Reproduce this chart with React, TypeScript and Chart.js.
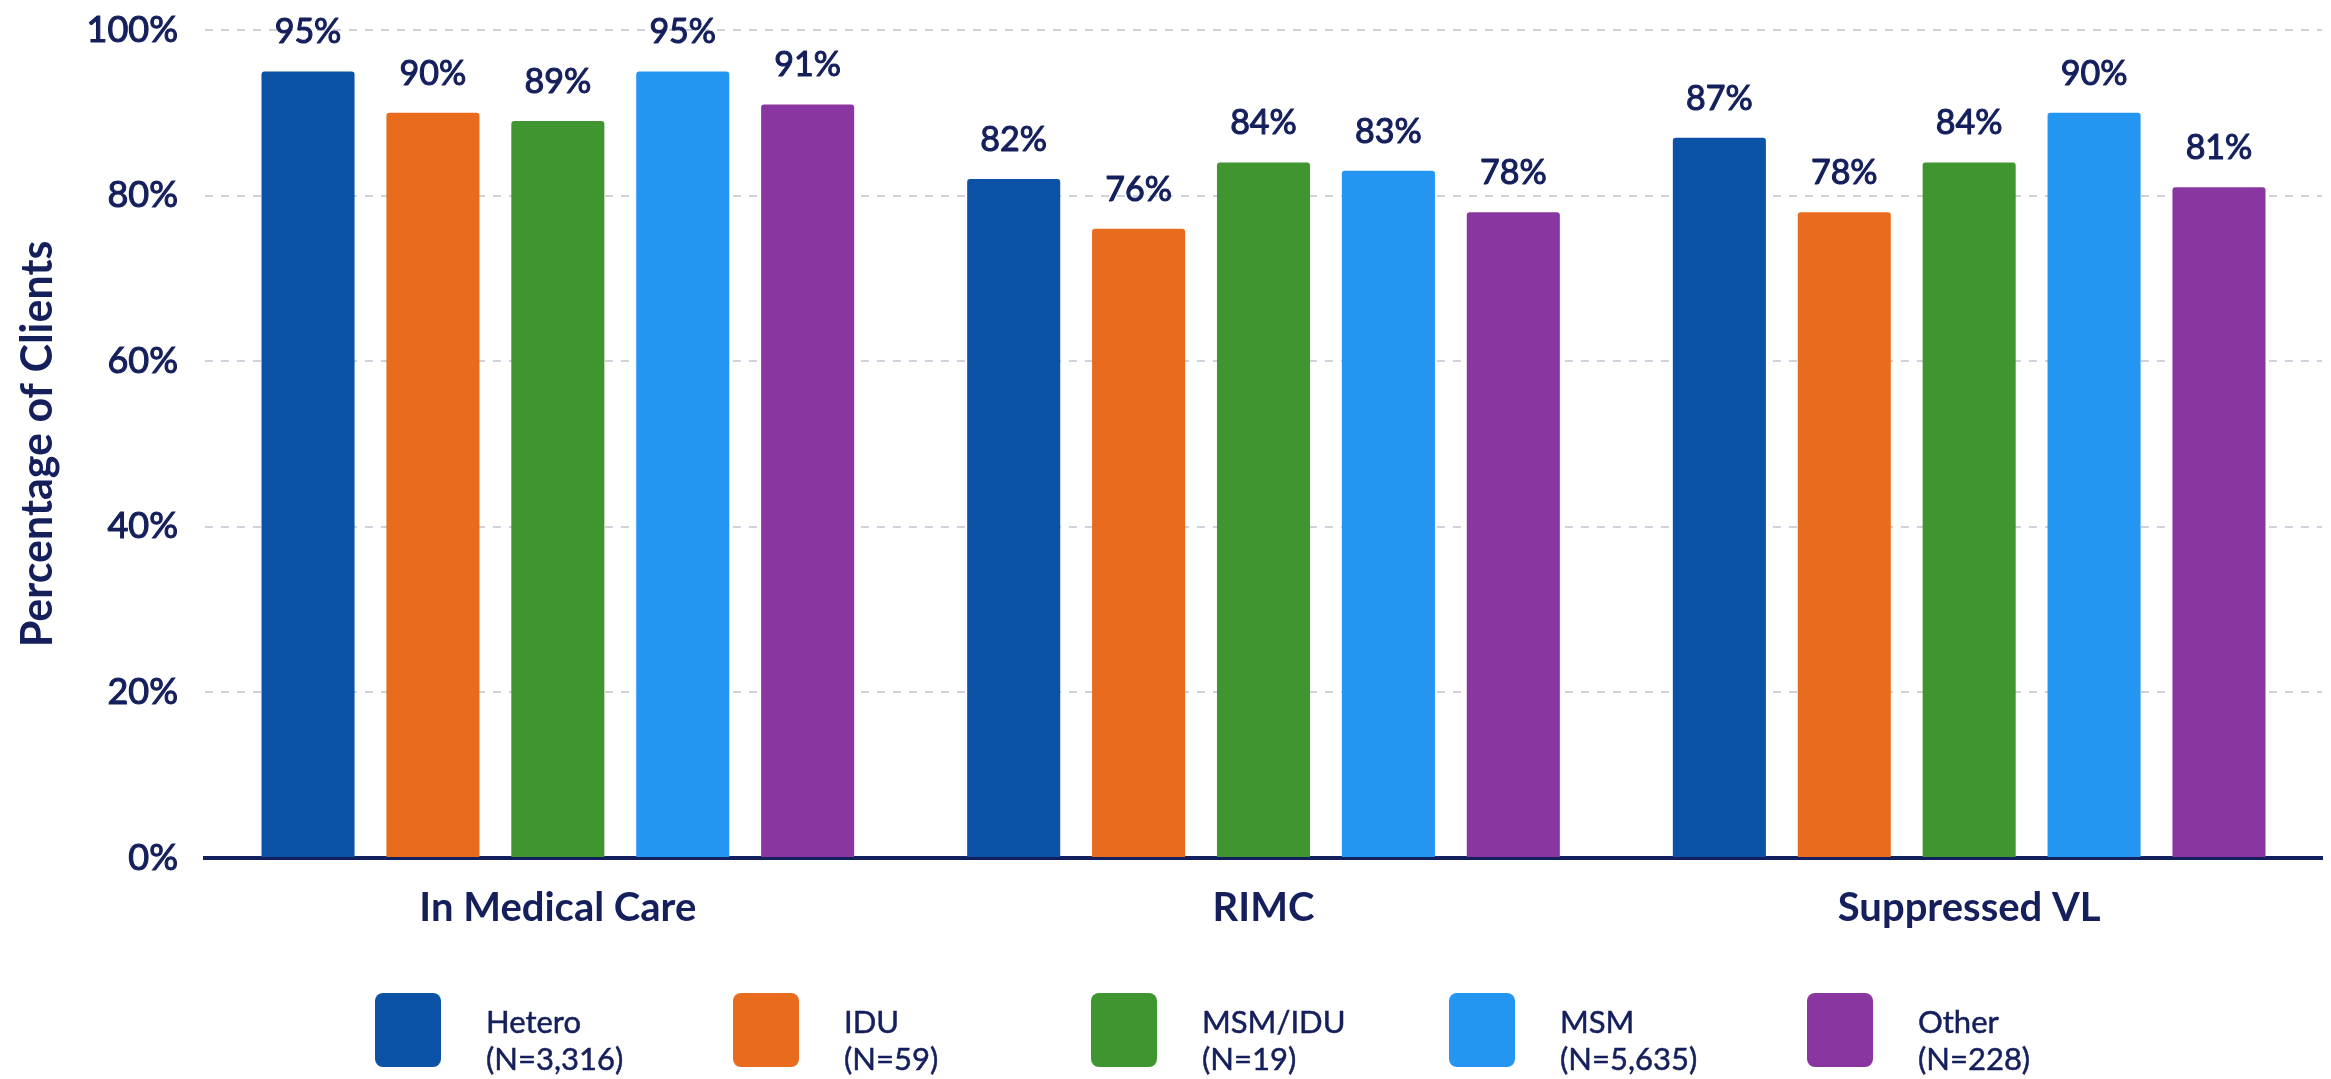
import React, { useEffect, useRef } from 'react';
import { Chart, registerables } from 'chart.js';

Chart.register(...registerables);

const categories = ['In Medical Care', 'RIMC', 'Suppressed VL'];
const seriesNames = ['Hetero', 'IDU', 'MSM/IDU', 'MSM', 'Other'];
const seriesCounts = ['(N=3,316)', '(N=59)', '(N=19)', '(N=5,635)', '(N=228)'];
const heteroValues = [95, 82, 87];
const iduValues = [90, 76, 78];
const msmIduValues = [89, 84, 84];
const msmValues = [95, 83, 90];
const otherValues = [91, 78, 81];
const yTickValues = [0, 20, 40, 60, 80, 100];
const seriesColors = ['#0b52a6', '#e96b1d', '#3f952f', '#2595f2', '#8a36a0'];

const NAVY = '#141f5c';
const FONT = 'Lato, "Open Sans", "Noto Sans", sans-serif';

const valueLabelPlugin = {
  id: 'valueLabels',
  afterDatasetsDraw(chart: any) {
    const { ctx } = chart;
    ctx.save();
    ctx.fillStyle = NAVY;
    ctx.strokeStyle = NAVY;
    ctx.lineWidth = 1.1;
    ctx.lineJoin = 'round';
    ctx.font = `normal 34px ${FONT}`;
    ctx.textAlign = 'center';
    ctx.textBaseline = 'middle';
    chart.data.datasets.forEach((ds: any, di: number) => {
      const meta = chart.getDatasetMeta(di);
      meta.data.forEach((bar: any, i: number) => {
        const t = ds.data[i] + '%';
        ctx.fillText(t, bar.x, bar.y - 39);
        ctx.strokeText(t, bar.x, bar.y - 39);
      });
    });
    ctx.restore();
  },
};

const customLegendPlugin = {
  id: 'customLegend',
  afterDraw(chart: any) {
    const { ctx } = chart;
    const startX = 375;
    const step = 358;
    const boxW = 66;
    const boxH = 74;
    const boxTop = 993;
    ctx.save();
    chart.data.datasets.forEach((ds: any, i: number) => {
      const x = startX + i * step;
      ctx.fillStyle = ds.backgroundColor;
      ctx.beginPath();
      (ctx as any).roundRect(x, boxTop, boxW, boxH, 8);
      ctx.fill();
      ctx.fillStyle = NAVY;
      ctx.strokeStyle = NAVY;
      ctx.lineWidth = 0.5;
      ctx.font = `normal 31px ${FONT}`;
      ctx.textAlign = 'left';
      ctx.textBaseline = 'middle';
      ctx.fillText(seriesNames[i], x + 111, boxTop + 30);
      ctx.strokeText(seriesNames[i], x + 111, boxTop + 30);
      ctx.fillText(seriesCounts[i], x + 111, boxTop + 67);
      ctx.strokeText(seriesCounts[i], x + 111, boxTop + 67);
    });
    ctx.restore();
  },
};

const bgPlugin = {
  id: 'bg',
  beforeDraw(chart: any) {
    const { ctx, width, height } = chart;
    ctx.save();
    ctx.fillStyle = '#ffffff';
    ctx.fillRect(0, 0, width, height);
    ctx.restore();
  },
};

export default function App() {
  const canvasRef = useRef<HTMLCanvasElement | null>(null);

  useEffect(() => {
    const canvas = canvasRef.current;
    if (!canvas) return;
    const seriesData = [heteroValues, iduValues, msmIduValues, msmValues, otherValues];
    const chart = new Chart(canvas, {
      type: 'bar',
      data: {
        labels: categories,
        datasets: seriesNames.map((name, i) => ({
          label: name,
          data: seriesData[i],
          backgroundColor: seriesColors[i],
          borderRadius: 3,
          barPercentage: 0.745,
          categoryPercentage: 0.885,
        })),
      },
      options: {
        responsive: false,
        animation: false,
        devicePixelRatio: 1,
        layout: { padding: { top: 30, right: 9, bottom: 141, left: 0 } },
        plugins: {
          legend: { display: false },
          tooltip: { enabled: false },
          title: { display: false },
        },
        scales: {
          x: {
            grid: { display: false, drawTicks: false },
            border: { display: true, color: '#13205e', width: 4 },
            ticks: {
              color: NAVY,
              font: { family: FONT, size: 40, weight: 'bold' },
              padding: 26,
            },
            afterFit(scale: any) {
              scale.height = 80;
            },
          },
          y: {
            min: 0,
            max: 100,
            afterBuildTicks(scale: any) {
              scale.ticks = yTickValues.map((v) => ({ value: v }));
            },
            grid: { color: '#cfd2db', lineWidth: 2, drawTicks: false },
            border: { display: false, dash: [8, 8] },
            ticks: {
              color: NAVY,
              font: { family: FONT, size: 36, weight: 'normal' },
              padding: 27,
              textStrokeColor: NAVY,
              textStrokeWidth: 1.1,
              callback: (v: any) => v + '%',
            },
            title: {
              display: true,
              text: 'Percentage of Clients',
              color: NAVY,
              font: { family: FONT, size: 43, weight: 'bold' },
              padding: { top: 12, bottom: 0 },
            },
            afterFit(scale: any) {
              scale.width = 205;
              scale.paddingTop = 10;
              scale.paddingBottom = 10;
            },
          },
        },
      },
      plugins: [bgPlugin, valueLabelPlugin, customLegendPlugin],
    });
    return () => chart.destroy();
  }, []);

  return (
    <div style={{ position: 'fixed', left: 0, top: 0, width: 2331, height: 1079, background: '#fff' }}>
      <canvas ref={canvasRef} width={2331} height={1079} style={{ display: 'block' }} />
    </div>
  );
}
